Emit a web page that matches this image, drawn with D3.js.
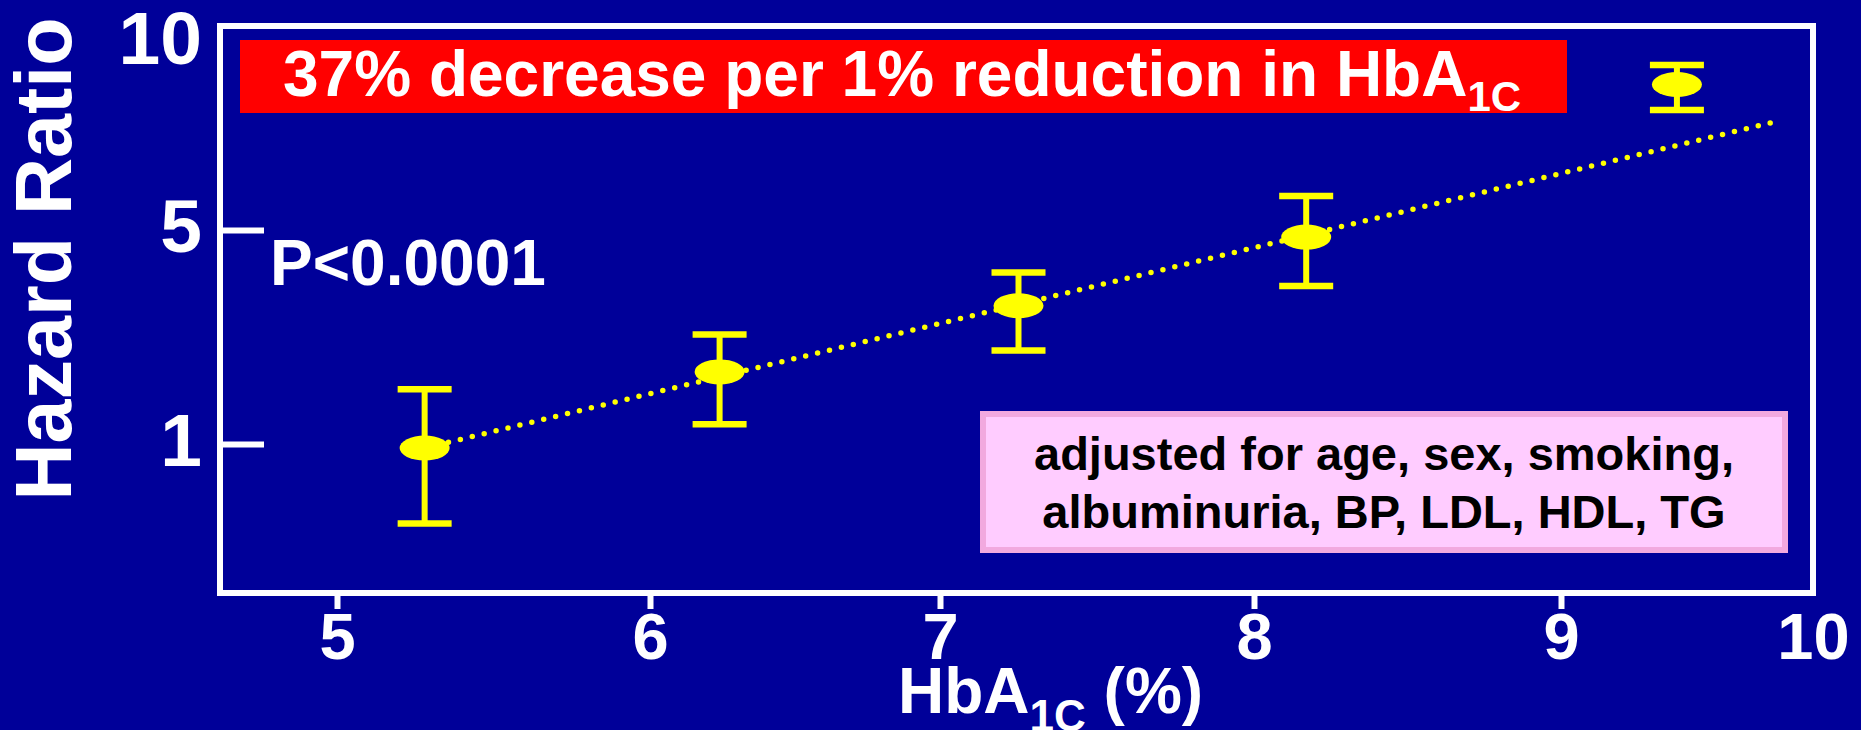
<!DOCTYPE html>
<html>
<head>
<meta charset="utf-8">
<script src="https://cdn.jsdelivr.net/npm/d3@7"></script>
<style>
  html, body { margin: 0; padding: 0; background: #000099; }
  svg { display: block; }
  text { font-family: "Liberation Sans", Arial, Helvetica, sans-serif; font-weight: bold; }
</style>
</head>
<body>
<svg id="chart" width="1861" height="730"></svg>
<script>
// Updated mean HbA1c category (%) and hazard ratio with 95% CI
const hba1c       = [5.28, 6.24, 7.25, 8.17, 9.46];
const hazardRatio = [0.97, 1.72, 2.83, 4.74, 8.55];
const ciLower     = [0.55, 1.16, 2.02, 3.28, 7.78];
const ciUpper     = [1.51, 2.28, 3.63, 5.67, 9.19];

// Fitted log-linear trend (end points)
const trendX = [5.28, 9.86];
const trendY = [0.97, 7.47];

// Axis ticks
const xTickValues = [5, 6, 7, 8, 9, 10];
const yTickValues = [1, 5, 10];

const W = 1861, H = 730;
const plot = { left: 220, top: 26, right: 1813, bottom: 593 };

const svg = d3.select("#chart");
svg.append("rect").attr("width", W).attr("height", H).attr("fill", "#000099");

// The slide's axes are drawn with uneven spacing, so both scales are piecewise
const x = d3.scaleLinear()
  .domain(xTickValues)
  .range([337, 650, 940, 1254, 1561, plot.right]);
const y = d3.scaleLog()
  .domain(yTickValues)
  .range([444, 230, 42]);

// Plot frame
svg.append("rect")
  .attr("x", plot.left).attr("y", plot.top)
  .attr("width", plot.right - plot.left).attr("height", plot.bottom - plot.top)
  .attr("fill", "none").attr("stroke", "#fff").attr("stroke-width", 6);

// Y axis: ticks point into the plot
const gy = svg.append("g")
  .attr("transform", `translate(${plot.left},0)`)
  .call(d3.axisLeft(y).tickValues(yTickValues).tickFormat(d3.format("d"))
    .tickSize(-44).tickPadding(18));
gy.select(".domain").remove();
gy.selectAll(".tick line").attr("stroke", "#fff").attr("stroke-width", 6)
  .filter(d => d === 10).remove();
gy.selectAll(".tick text").attr("fill", "#fff").attr("font-size", 75).attr("dy", "0.28em");

// X axis
const gx = svg.append("g")
  .attr("transform", `translate(0,${plot.bottom})`)
  .call(d3.axisBottom(x).tickValues(xTickValues).tickFormat(d3.format("d"))
    .tickSize(16).tickPadding(4));
gx.select(".domain").remove();
gx.selectAll(".tick line").attr("stroke", "#fff").attr("stroke-width", 6)
  .filter(d => d === 10).remove();
gx.selectAll(".tick text").attr("fill", "#fff").attr("font-size", 65);

// Axis titles
svg.append("text")
  .attr("transform", "translate(71,259) rotate(-90)")
  .attr("text-anchor", "middle").attr("fill", "#fff").attr("font-size", 79)
  .text("Hazard Ratio");

const xTitle = svg.append("text")
  .attr("x", 898).attr("y", 713).attr("fill", "#fff").attr("font-size", 64)
  .style("white-space", "pre");
xTitle.append("tspan").text("HbA");
xTitle.append("tspan").attr("font-size", 44).attr("dy", 18).text("1C");
xTitle.append("tspan").attr("dy", -18).text(" (%)");

// Headline banner
svg.append("rect").attr("x", 240).attr("y", 40).attr("width", 1327).attr("height", 73)
  .attr("fill", "#ff0000");
const banner = svg.append("text")
  .attr("x", 283).attr("y", 96).attr("fill", "#fff").attr("font-size", 64);
banner.append("tspan").text("37% decrease per 1% reduction in HbA");
banner.append("tspan").attr("font-size", 42).attr("dy", 15).text("1C");

// P value
svg.append("text").attr("x", 270).attr("y", 285).attr("fill", "#fff").attr("font-size", 64)
  .text("P<0.0001");

// Adjustment note
svg.append("rect").attr("x", 983).attr("y", 414).attr("width", 802).attr("height", 136)
  .attr("fill", "#ffccff").attr("stroke", "#f2a9df").attr("stroke-width", 6);
const note = svg.append("text").attr("text-anchor", "middle").attr("fill", "#000")
  .attr("font-size", 47);
note.append("tspan").attr("x", 1384).attr("y", 470).text("adjusted for age, sex, smoking,");
note.append("tspan").attr("x", 1384).attr("y", 528).text("albuminuria, BP, LDL, HDL, TG");

// Dotted trend line
svg.append("path")
  .datum(d3.zip(trendX, trendY))
  .attr("d", d3.line().x(d => x(d[0])).y(d => y(d[1])))
  .attr("fill", "none").attr("stroke", "#ffff00").attr("stroke-width", 5.5)
  .attr("stroke-linecap", "round").attr("stroke-dasharray", "0 12.25");

// Error bars and point estimates
const pts = hba1c.map((v, i) => ({ x: v, hr: hazardRatio[i], lo: ciLower[i], hi: ciUpper[i] }));
const capHalf = 27;
const g = svg.append("g").attr("stroke", "#ffff00");
g.selectAll(".ci").data(pts).join("line")
  .attr("x1", d => x(d.x)).attr("x2", d => x(d.x))
  .attr("y1", d => y(d.lo)).attr("y2", d => y(d.hi))
  .attr("stroke-width", 6);
g.selectAll(".capHi").data(pts).join("line")
  .attr("x1", d => x(d.x) - capHalf).attr("x2", d => x(d.x) + capHalf)
  .attr("y1", d => y(d.hi)).attr("y2", d => y(d.hi))
  .attr("stroke-width", 6.5);
g.selectAll(".capLo").data(pts).join("line")
  .attr("x1", d => x(d.x) - capHalf).attr("x2", d => x(d.x) + capHalf)
  .attr("y1", d => y(d.lo)).attr("y2", d => y(d.lo))
  .attr("stroke-width", 6.5);
svg.selectAll(".pt").data(pts).join("ellipse")
  .attr("cx", d => x(d.x)).attr("cy", d => y(d.hr))
  .attr("rx", 25).attr("ry", 12.5)
  .attr("fill", "#ffff00");
</script>
</body>
</html>
